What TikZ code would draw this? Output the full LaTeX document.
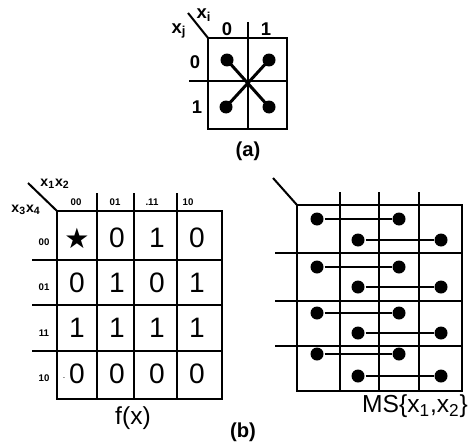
\documentclass[tikz,border=0pt]{standalone}
\usepackage{fontspec}
\setmainfont{Liberation Sans}
\newfontfamily\symfont{DejaVu Sans}
\usetikzlibrary{positioning,calc}

\begin{document}
\begin{tikzpicture}[x=0.02cm,y=-0.02cm,line width=1.15pt,
  dot/.style={circle,fill,inner sep=0pt,minimum size=0.26cm},
  cell/.style={font=\fontsize{16}{18}\selectfont},
  tiny/.style={font=\fontsize{5.5}{6}\selectfont\bfseries},
  lbl/.style={font=\fontsize{10.5}{12}\selectfont\bfseries},
  sublbl/.style={font=\fontsize{8}{10}\selectfont\bfseries}]
\useasboundingbox (0,0) rectangle (475,446);
% (a) two-variable map
\draw (208,38) rectangle (287,129);
\draw (248,22) -- (248,129);
\draw (189,81) -- (287,81);
\draw (188,13) -- (208,38);
\node[lbl] (xi) at (204,15) {x\textsubscript{i}};
\node[lbl] (xj) at (179,31) {x\textsubscript{j}};
\node[lbl] (ca0) at (227,29) {0};
\node[lbl] (ca1) at (266,29) {1};
\node[lbl] (ra0) at (195,62) {0};
\node[lbl] (ra1) at (197,107) {1};
\node[dot] (a00) at (227,60) {};
\node[dot] (a01) at (269,60) {};
\node[dot] (a10) at (226,107) {};
\node[dot] (a11) at (269,107) {};
\draw[line width=1.7pt] (a00.center) -- (a11.center);
\draw[line width=1.7pt] (a01.center) -- (a10.center);
\node[font=\fontsize{11.5}{13}\selectfont\bfseries] (capa) at (248,151) {(a)};

% (b) left: f(x)
\draw (57,211) rectangle (222,399);
\foreach \x in {97,134,177} \draw (\x,193) -- (\x,399);
\foreach \y in {260,305,351} \draw (32,\y) -- (222,\y);
\draw (28,183) -- (57,211);
\node[sublbl] (x12) at (55,184) {x\textsubscript{1}x\textsubscript{2}};
\node[sublbl] (x34) at (26,210) {x\textsubscript{3}x\textsubscript{4}};
\foreach \t/\x [count=\c] in {00/76,01/115,.11/152,10/188}
  \node[tiny] (col\c) at (\x,202) {\t};
\foreach \t/\y [count=\c] in {00/242,01/287,11/333,10/378}
  \node[tiny] (row\c) at (44,\y) {\t};
\node[cell] (f11) at (77,238) {\symfont ★};
\foreach \t [count=\c from 2] in {0,1,0}
  \node[cell] (f1\c) at ({37+40*\c},238) {\t};
\foreach \t [count=\c] in {0,1,0,1}
  \node[cell] (f2\c) at ({37+40*\c},283) {\t};
\foreach \t [count=\c] in {1,1,1,1}
  \node[cell] (f3\c) at ({37+40*\c},328) {\t};
\foreach \t [count=\c] in {0,0,0,0}
  \node[cell] (f4\c) at ({37+40*\c},374) {\t};
\node[font=\tiny] (pt) at (64,378) {.};
\node[font=\fontsize{14}{16}\selectfont] (fx) at (133,418) {f(x)};
\node[font=\fontsize{11.5}{13}\selectfont\bfseries] (capb) at (243,432) {(b)};

% (b) right: MS{x1,x2}
\draw (297,205) rectangle (462,391);
\foreach \x in {340,379,419} \draw (\x,192) -- (\x,391);
\foreach \y in {253,301,346} \draw (275,\y) -- (462,\y);
\draw (273,178) -- (297,205);
\foreach \r/\y in {1/219,2/267,3/313,4/354} {
  \node[dot] (ul\r) at (317,\y) {};
  \node[dot] (ur\r) at (399,\y) {};
  \draw (ul\r) -- (ur\r);
}
\foreach \r/\y in {1/240,2/287,3/333,4/376} {
  \node[dot] (ll\r) at (358,\y) {};
  \node[dot] (lr\r) at (441,\y) {};
  \draw (ll\r) -- (lr\r);
}
\node[font=\fontsize{14}{16}\selectfont] (ms) at (415,406) {MS\{x\textsubscript{1},x\textsubscript{2}\}};
\end{tikzpicture}
\end{document}
